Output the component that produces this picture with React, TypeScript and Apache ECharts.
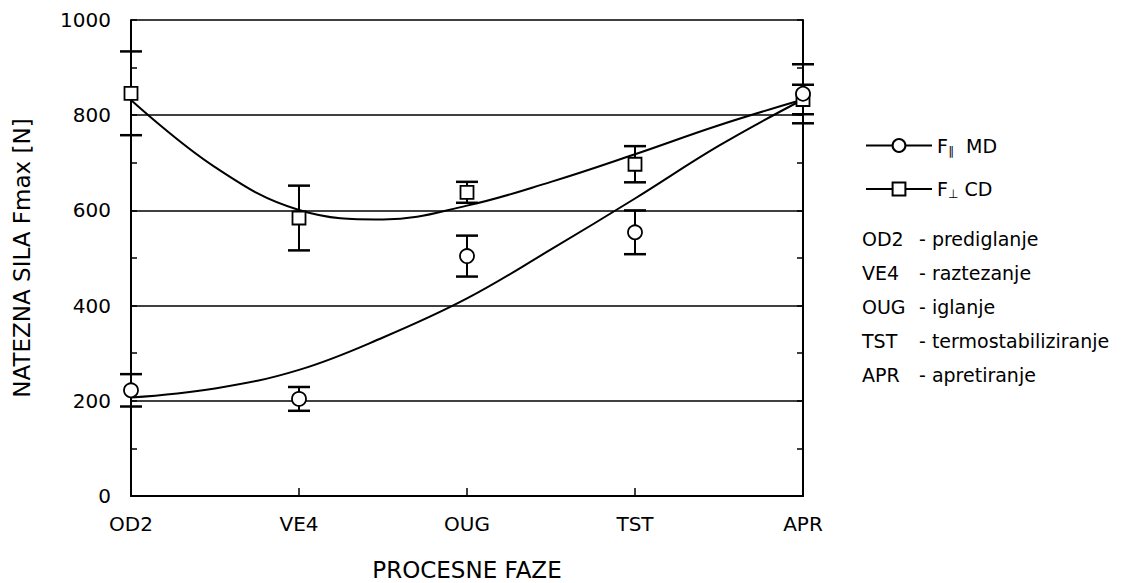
import React, { useEffect, useRef } from "react";
import * as echarts from "echarts";

const categories = ["OD2", "VE4", "OUG", "TST", "APR"];
const yTicks = { min: 0, max: 1000, interval: 200 };

// measured points (mean and half error-bar)
const mdMean = [222, 204, 504, 554, 845];
const mdErr = [34, 25, 43, 46, 62];
const cdMean = [846, 584, 638, 697, 833];
const cdErr = [88, 68, 22, 38, 31];

// fitted curves
const curveX = [0, 0.5, 1, 1.5, 2, 2.5, 3, 3.5, 4];
const mdCurve = [207, 226, 265, 333, 415, 518, 625, 736, 833];
const cdCurve = [832, 691, 601, 581, 610, 660, 718, 779, 833];

const noteCodes = ["OD2", "VE4", "OUG", "TST", "APR"];
const noteTexts = ["- prediglanje", "- raztezanje", "- iglanje", "- termostabiliziranje", "- apretiranje"];

const FONT = "DejaVu Sans";

export default function App() {
  const ref = useRef<HTMLDivElement>(null);
  useEffect(() => {
    const chart = echarts.init(ref.current!, undefined, { renderer: "svg" });
    const black = "#000";
    const errData = (mean: number[], err: number[]) =>
      mean.map((m, i) => [i, m, m - err[i], m + err[i]]);
    const errSeries = (name: string, mean: number[], err: number[]) => ({
      type: "custom",
      name,
      data: errData(mean, err),
      encode: { x: 0, y: [1, 2, 3] },
      z: 3,
      renderItem: (params: any, api: any) => {
        const x = api.value(0);
        const p1 = api.coord([x, api.value(3)]);
        const p2 = api.coord([x, api.value(2)]);
        const hw = 11;
        return {
          type: "group",
          children: [
            { type: "line", shape: { x1: p1[0], y1: p1[1], x2: p2[0], y2: p2[1] }, style: { stroke: black, lineWidth: 2 } },
            { type: "line", shape: { x1: p1[0] - hw, y1: p1[1], x2: p1[0] + hw, y2: p1[1] }, style: { stroke: black, lineWidth: 2.5 } },
            { type: "line", shape: { x1: p2[0] - hw, y1: p2[1], x2: p2[0] + hw, y2: p2[1] }, style: { stroke: black, lineWidth: 2.5 } },
          ],
        };
      },
    });

    const graphics: any[] = [];
    noteCodes.forEach((c, i) => {
      const y = 239 + i * 34;
      graphics.push({
        type: "text", x: 862, y,
        style: { text: c, fontSize: 19, fontFamily: FONT, fill: black, verticalAlign: "middle" },
      });
      graphics.push({
        type: "text", x: 919, y,
        style: { text: noteTexts[i], fontSize: 19, fontFamily: FONT, fill: black, verticalAlign: "middle" },
      });
    });

    const yAxisBase = {
      type: "value",
      min: yTicks.min,
      max: yTicks.max,
      interval: yTicks.interval,
      axisLine: { show: true, lineStyle: { color: black, width: 2 } },
      axisTick: { show: true, inside: true, length: 6, lineStyle: { color: black, width: 1.5 } },
      minorTick: { show: true, splitNumber: 2, length: 6, lineStyle: { color: black, width: 1.5 } },
    };

    chart.setOption({
      animation: false,
      backgroundColor: "#fff",
      textStyle: { fontFamily: FONT, color: black },
      grid: { left: 131, right: 331, top: 20, bottom: 87, containLabel: false, outerBoundsMode: "none" },
      legend: {
        data: ["MD", "CD"],
        orient: "vertical",
        left: 860,
        top: 131,
        itemWidth: 66,
        itemHeight: 16,
        itemGap: 23,
        formatter: (n: string) => (n === "MD" ? "F{s|∥}  MD" : "F{s|⊥} CD"),
        textStyle: {
          fontFamily: FONT,
          fontSize: 19,
          color: black,
          rich: { s: { fontFamily: FONT, fontSize: 12, padding: [10, 0, 0, 0], color: "#000000" } },
        },
      },
      xAxis: {
        type: "value",
        min: 0,
        max: 4,
        interval: 1,
        name: "PROCESNE FAZE",
        nameLocation: "middle",
        nameGap: 62,
        nameTextStyle: { fontFamily: FONT, fontSize: 23, color: black },
        axisLine: { show: true, lineStyle: { color: black, width: 2 } },
        axisTick: { show: true, inside: true, length: 8, lineStyle: { color: black, width: 1.5 } },
        splitLine: { show: false },
        axisLabel: {
          margin: 18,
          fontFamily: FONT,
          fontSize: 20,
          color: black,
          showMinLabel: true,
          showMaxLabel: true,
          formatter: (v: number) => categories[Math.round(v)] ?? "",
        },
      },
      yAxis: [
        {
          ...yAxisBase,
          position: "left",
          name: "NATEZNA SILA Fmax [N]",
          nameLocation: "middle",
          nameGap: 98,
          nameTextStyle: { fontFamily: FONT, fontSize: 23, color: black },
          splitLine: { show: true, lineStyle: { color: black, width: 1.5 } },
          axisLabel: { margin: 20, fontFamily: FONT, fontSize: 20, color: black, formatter: (v: number) => String(v) },
        },
        {
          ...yAxisBase,
          position: "right",
          splitLine: { show: false },
          axisLabel: { show: false },
        },
      ],
      graphic: graphics,
      series: [
        {
          type: "line",
          name: "MD",
          data: curveX.map((x, i) => [x, mdCurve[i]]),
          smooth: 0.4,
          symbol: "circle",
          showSymbol: false,
          symbolSize: 13,
          itemStyle: { color: "#fff", borderColor: black, borderWidth: 1.8 },
          lineStyle: { color: black, width: 2 },
          z: 2,
        },
        {
          type: "line",
          name: "CD",
          data: curveX.map((x, i) => [x, cdCurve[i]]),
          smooth: 0.4,
          symbol: "rect",
          showSymbol: false,
          symbolSize: 13,
          itemStyle: { color: "#fff", borderColor: black, borderWidth: 1.8 },
          lineStyle: { color: black, width: 2 },
          z: 2,
        },
        errSeries("cdErr", cdMean, cdErr),
        errSeries("mdErr", mdMean, mdErr),
        {
          type: "scatter",
          name: "cdPts",
          data: cdMean.map((m, i) => [i, m]),
          symbol: "rect",
          symbolSize: 13,
          itemStyle: { color: "#fff", borderColor: black, borderWidth: 1.8, opacity: 1 },
          z: 4,
        },
        {
          type: "scatter",
          name: "mdPts",
          data: mdMean.map((m, i) => [i, m]),
          symbol: "circle",
          symbolSize: 14,
          itemStyle: { color: "#fff", borderColor: black, borderWidth: 1.8, opacity: 1 },
          z: 5,
        },
      ],
    });
    return () => chart.dispose();
  }, []);
  return <div ref={ref} style={{ position: "fixed", left: 0, top: 0, width: 1134, height: 583, background: "#fff" }} />;
}
